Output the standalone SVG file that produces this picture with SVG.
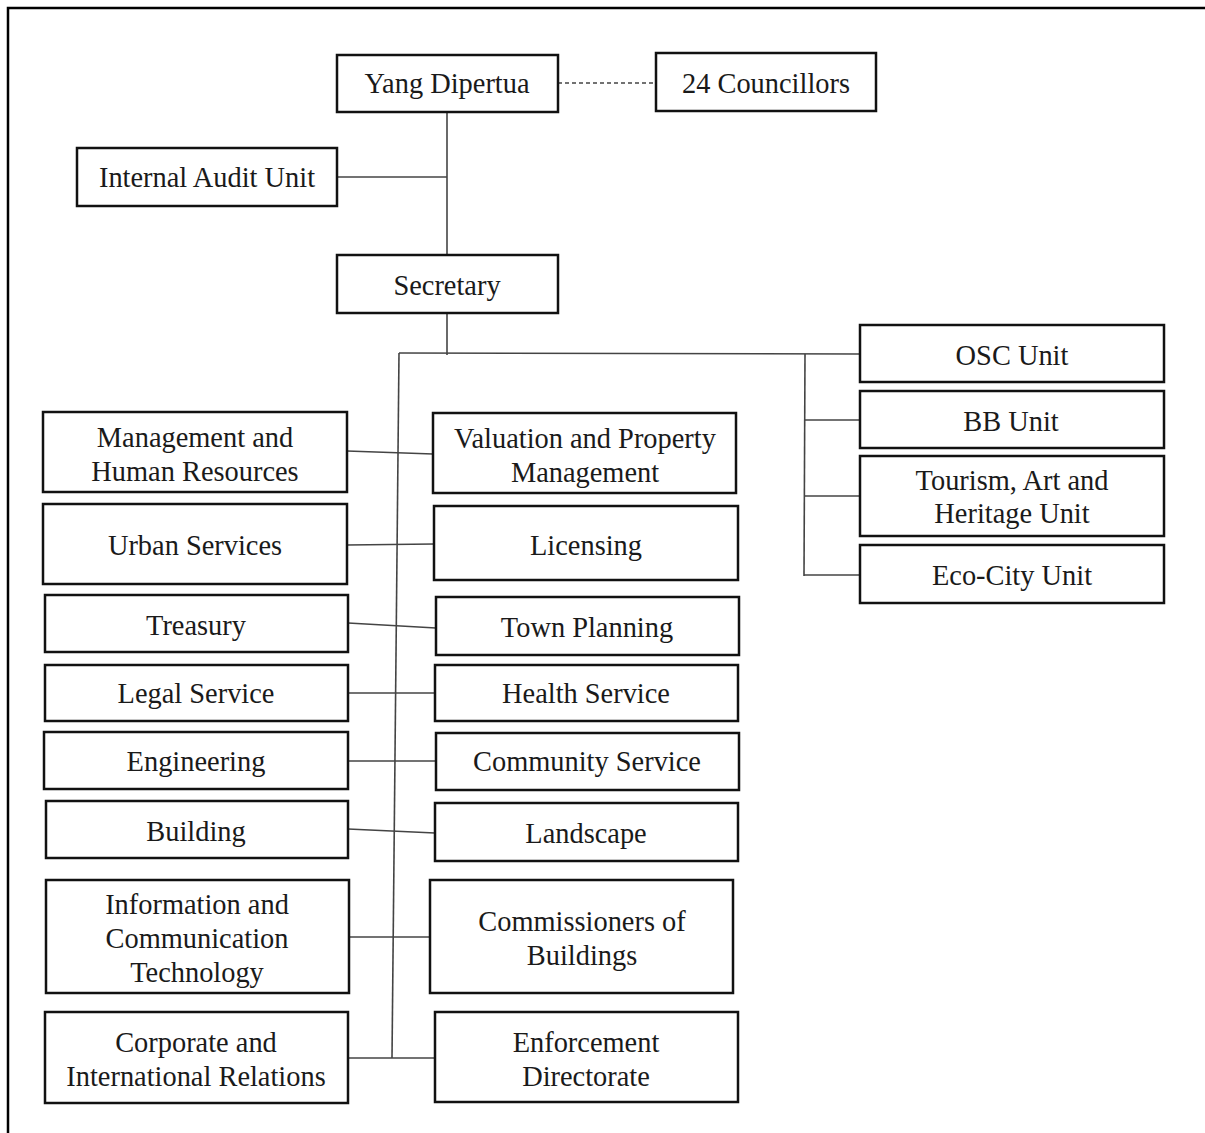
<svg xmlns="http://www.w3.org/2000/svg" width="1205" height="1133" viewBox="0 0 1205 1133">
<style>
.box{fill:#fff;stroke:#111;stroke-width:2.5}
.t{font-family:"Liberation Serif","Times New Roman",serif;font-size:28.4px;fill:#1a1a1a;text-anchor:middle}
.c{stroke:#444;stroke-width:1.6;fill:none}
.frame{stroke:#000;stroke-width:2.5;fill:none}
</style>
<rect width="1205" height="1133" fill="#fff"/>
<path class="frame" d="M8,1133 V8 H1205"/>
<g id="connectors">
<line class="c" x1="558" y1="83" x2="656" y2="83" stroke-dasharray="4,3"/>
<line class="c" x1="447" y1="112" x2="447" y2="255"/>
<line class="c" x1="337" y1="177" x2="447" y2="177"/>
<line class="c" x1="447" y1="313" x2="447" y2="355"/>
<line class="c" x1="399" y1="353" x2="860" y2="354"/>
<line class="c" x1="399" y1="353" x2="392" y2="1058"/>
<line class="c" x1="805" y1="354" x2="804" y2="576"/>
<line class="c" x1="805" y1="420" x2="860" y2="420"/>
<line class="c" x1="805" y1="496" x2="860" y2="496"/>
<line class="c" x1="804" y1="575" x2="860" y2="575"/>
<line class="c" x1="347" y1="451" x2="433" y2="454"/>
<line class="c" x1="347" y1="545" x2="434" y2="544"/>
<line class="c" x1="348" y1="623" x2="436" y2="628"/>
<line class="c" x1="348" y1="693" x2="435" y2="693"/>
<line class="c" x1="348" y1="761" x2="436" y2="761"/>
<line class="c" x1="348" y1="829" x2="435" y2="833"/>
<line class="c" x1="349" y1="937" x2="430" y2="937"/>
<line class="c" x1="348" y1="1058" x2="435" y2="1058"/>
</g>
<g id="yang-dipertua"><rect class="box" x="337" y="55" width="221" height="57"/><text class="t" x="447" y="92.5">Yang Dipertua</text></g>
<g id="councillors"><rect class="box" x="656" y="53" width="220" height="58"/><text class="t" x="766" y="92.5">24 Councillors</text></g>
<g id="internal-audit"><rect class="box" x="77" y="148" width="260" height="58"/><text class="t" x="207" y="186.5">Internal Audit Unit</text></g>
<g id="secretary"><rect class="box" x="337" y="255" width="221" height="58"/><text class="t" x="447" y="294.5">Secretary</text></g>
<g id="osc"><rect class="box" x="860" y="325" width="304" height="57"/><text class="t" x="1012" y="364.5">OSC Unit</text></g>
<g id="bb"><rect class="box" x="860" y="391" width="304" height="57"/><text class="t" x="1011" y="430.5">BB Unit</text></g>
<g id="tourism"><rect class="box" x="860" y="456" width="304" height="80"/><text class="t" x="1012" y="489.5">Tourism, Art and</text><text class="t" x="1012" y="522.5">Heritage Unit</text></g>
<g id="eco-city"><rect class="box" x="860" y="545" width="304" height="58"/><text class="t" x="1012" y="584.5">Eco-City Unit</text></g>
<g id="mhr"><rect class="box" x="43" y="412" width="304" height="80"/><text class="t" x="195" y="446.5">Management and</text><text class="t" x="195" y="480.5">Human Resources</text></g>
<g id="valuation"><rect class="box" x="433" y="413" width="303" height="80"/><text class="t" x="585" y="447.5">Valuation and Property</text><text class="t" x="585" y="481.5">Management</text></g>
<g id="urban"><rect class="box" x="43" y="504" width="304" height="80"/><text class="t" x="195" y="554.5">Urban Services</text></g>
<g id="licensing"><rect class="box" x="434" y="506" width="304" height="74"/><text class="t" x="586" y="554.5">Licensing</text></g>
<g id="treasury"><rect class="box" x="45" y="595" width="303" height="57"/><text class="t" x="196" y="634.5">Treasury</text></g>
<g id="town-planning"><rect class="box" x="436" y="597" width="303" height="58"/><text class="t" x="587" y="636.5">Town Planning</text></g>
<g id="legal"><rect class="box" x="45" y="665" width="303" height="56"/><text class="t" x="196" y="702.5">Legal Service</text></g>
<g id="health"><rect class="box" x="435" y="665" width="303" height="56"/><text class="t" x="586" y="702.5">Health Service</text></g>
<g id="engineering"><rect class="box" x="44" y="732" width="304" height="57"/><text class="t" x="196" y="770.5">Engineering</text></g>
<g id="community"><rect class="box" x="436" y="733" width="303" height="57"/><text class="t" x="587" y="770.5">Community Service</text></g>
<g id="building"><rect class="box" x="46" y="801" width="302" height="57"/><text class="t" x="196" y="840.5">Building</text></g>
<g id="landscape"><rect class="box" x="435" y="803" width="303" height="58"/><text class="t" x="586" y="842.5">Landscape</text></g>
<g id="ict"><rect class="box" x="46" y="880" width="303" height="113"/><text class="t" x="197" y="913.5">Information and</text><text class="t" x="197" y="947.5">Communication</text><text class="t" x="197" y="981.5">Technology</text></g>
<g id="commissioners"><rect class="box" x="430" y="880" width="303" height="113"/><text class="t" x="582" y="930.5">Commissioners of</text><text class="t" x="582" y="964.5">Buildings</text></g>
<g id="corporate"><rect class="box" x="45" y="1012" width="303" height="91"/><text class="t" x="196" y="1051.5">Corporate and</text><text class="t" x="196" y="1085.5">International Relations</text></g>
<g id="enforcement"><rect class="box" x="435" y="1012" width="303" height="90"/><text class="t" x="586" y="1051.5">Enforcement</text><text class="t" x="586" y="1085.5">Directorate</text></g>
</svg>
